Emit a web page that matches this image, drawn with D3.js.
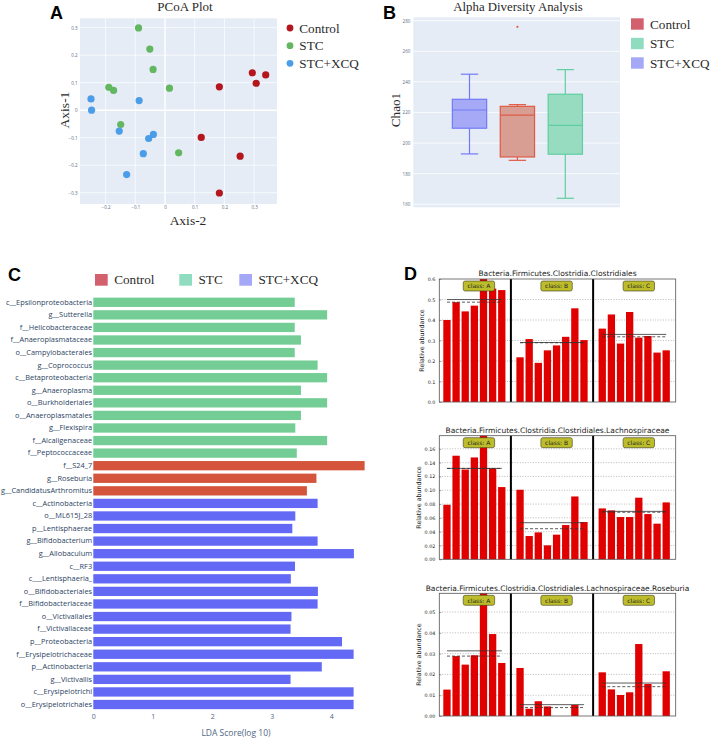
<!DOCTYPE html>
<html><head><meta charset="utf-8">
<script src="https://cdn.jsdelivr.net/npm/d3@7"></script>
<style>body{margin:0;background:#fff}svg{display:block}</style>
</head><body><svg id="c" width="711" height="740"></svg>
<script>
// ================= DATA =================
// Panel A: PCoA
const pcoaGroups = ["Control", "STC", "STC+XCQ"];
const pcoaControl = [[0.294,0.136],[0.339,0.128],[0.307,0.098],[0.183,0.085],[0.122,-0.099],[0.253,-0.167],[0.183,-0.301]];
const pcoaSTC = [[-0.089,0.299],[-0.051,0.222],[-0.040,0.148],[-0.189,0.083],[-0.173,0.072],[0.015,0.080],[-0.149,-0.052],[0.046,-0.155]];
const pcoaXCQ = [[-0.249,0.041],[-0.247,0.000],[-0.087,0.035],[-0.154,-0.076],[-0.055,-0.103],[-0.039,-0.088],[-0.073,-0.158],[-0.129,-0.234]];
const pcoaXTicks = [-0.2,-0.1,0,0.1,0.2,0.3];
const pcoaYTicks = [-0.3,-0.2,-0.1,0,0.1,0.2,0.3];

// Panel B: Alpha diversity (Chao1) box stats
const alphaGroups = ["STC+XCQ", "Control", "STC"];
const alphaLower  = [192.9, 188.7, 163.9];
const alphaQ1     = [209.7, 190.9, 192.7];
const alphaMedian = [221.6, 218.2, 211.6];
const alphaQ3     = [228.6, 224.0, 231.9];
const alphaUpper  = [245.0, 225.1, 248.0];
const alphaOutlierGroup = ["Control"];
const alphaOutlierValue = [276];
const alphaTicks = [160,180,200,220,240,260,280];
const legendGroups = ["Control", "STC", "STC+XCQ"];

// Panel C: LDA scores
const ldaTaxa = ["c__Epsilonproteobacteria","g__Sutterella","f__Helicobacteraceae","f__Anaeroplasmataceae","o__Campylobacterales","g__Coprococcus","c__Betaproteobacteria","g__Anaeroplasma","o__Burkholderiales","o__Anaeroplasmatales","g__Flexispira","f__Alcaligenaceae","f__Peptococcaceae","f__S24_7","g__Roseburia","g__CandidatusArthromitus","c__Actinobacteria","o__ML615J_28","p__Lentisphaerae","g__Bifidobacterium","g__Allobaculum","c__RF3","c___Lentisphaeria_","o__Bifidobacteriales","f__Bifidobacteriaceae","o__Victivallales","f__Victivallaceae","p__Proteobacteria","f__Erysipelotrichaceae","p__Actinobacteria","g__Victivallis","c__Erysipelotrichi","o__Erysipelotrichales"];
const ldaScores = [3.385,3.93,3.385,3.49,3.385,3.77,3.93,3.49,3.93,3.49,3.395,3.93,3.42,4.56,3.75,3.59,3.77,3.395,3.345,3.77,4.38,3.39,3.32,3.775,3.77,3.33,3.315,4.18,4.375,3.84,3.315,4.375,4.375];
const ldaGroup = ["STC","STC","STC","STC","STC","STC","STC","STC","STC","STC","STC","STC","STC","Control","Control","Control","STC+XCQ","STC+XCQ","STC+XCQ","STC+XCQ","STC+XCQ","STC+XCQ","STC+XCQ","STC+XCQ","STC+XCQ","STC+XCQ","STC+XCQ","STC+XCQ","STC+XCQ","STC+XCQ","STC+XCQ","STC+XCQ","STC+XCQ"];
const ldaTicks = [0,1,2,3,4];

// Panel D: relative abundance per sample
const classNames = ["class: A", "class: B", "class: C"];
const d1Title = "Bacteria.Firmicutes.Clostridia.Clostridiales";
const d1A = [0.400,0.487,0.442,0.470,0.600,0.553,0.546];
const d1B = [0.218,0.307,0.191,0.252,0.276,0.318,0.457,0.302];
const d1C = [0.358,0.427,0.285,0.439,0.314,0.322,0.241,0.252];
const d1Ticks = [0,0.1,0.2,0.3,0.4,0.5,0.6];
const d2Title = "Bacteria.Firmicutes.Clostridia.Clostridiales.Lachnospiraceae";
const d2A = [0.079,0.150,0.130,0.1475,0.179,0.1316,0.1046];
const d2B = [0.1007,0.0337,0.039,0.0202,0.0357,0.0496,0.091,0.054];
const d2C = [0.0737,0.0708,0.0612,0.0612,0.0892,0.0655,0.0516,0.0824];
const d2Ticks = [0,0.02,0.04,0.06,0.08,0.10,0.12,0.14,0.16];
const d3Title = "Bacteria.Firmicutes.Clostridia.Clostridiales.Lachnospiraceae.Roseburia";
const d3A = [0.0127,0.0288,0.0247,0.0292,0.059,0.0394,0.0255];
const d3B = [0.0231,0.0035,0.0071,0.0046,0,0,0.0053,0];
const d3C = [0.021,0.0128,0.0101,0.0114,0.0346,0.0154,0,0.0215];
const d3Ticks = [0,0.01,0.02,0.03,0.04,0.05];

// ================= STYLE =================
const SERIF = "'Liberation Serif','Times New Roman',serif";
const SANS = "'Liberation Sans',Arial,sans-serif";
const OPEN = "'Open Sans',sans-serif";
const DJV = "'DejaVu Sans',sans-serif";
const pcoaColor = {"Control":"#b3161c","STC":"#62b760","STC+XCQ":"#4c9de8"};
const legendColor = {"Control":"#d3606d","STC":"#90dcc0","STC+XCQ":"#a4a8f6"};
const boxFill = {"STC+XCQ":"#a6aaf6","Control":"#d89d93","STC":"#97dcc1"};
const boxStroke = {"STC+XCQ":"#7279f6","Control":"#e05a44","STC":"#5fcf9f"};
const ldaColor = {"Control":"#d4553c","STC":"#73cd95","STC+XCQ":"#6369f4"};
const minus = s => s.replace("-", "\u2212");

const svg = d3.select("#c");
svg.append("rect").attr("width",711).attr("height",740).attr("fill","#fff");

function panelLetter(t, x, y) {
  svg.append("text").attr("x",x).attr("y",y).text(t)
    .attr("font-family",SANS).attr("font-weight","bold").attr("font-size",18).attr("fill","#000");
}
panelLetter("A",50,18.5); panelLetter("B",383,18.5); panelLetter("C",8,281); panelLetter("D",404,280);

// ================= PANEL A =================
{
  const x = d3.scaleLinear().domain([-0.286,0.377]).range([80,277]);
  const y = d3.scaleLinear().domain([-0.341,0.334]).range([204,18.3]);
  const g = svg.append("g");
  g.append("rect").attr("x",x.range()[0]).attr("y",y.range()[1])
    .attr("width",x.range()[1]-x.range()[0]).attr("height",y.range()[0]-y.range()[1]).attr("fill","#e5ecf6");
  g.selectAll(".gx").data(pcoaXTicks).join("line")
    .attr("x1",d=>x(d)).attr("x2",d=>x(d)).attr("y1",y.range()[1]).attr("y2",y.range()[0])
    .attr("stroke","#fff").attr("stroke-width",d=>d===0?1.4:0.7);
  g.selectAll(".gy").data(pcoaYTicks).join("line")
    .attr("y1",d=>y(d)).attr("y2",d=>y(d)).attr("x1",x.range()[0]).attr("x2",x.range()[1])
    .attr("stroke","#fff").attr("stroke-width",d=>d===0?1.4:0.7);
  const fmt = d => d===0 ? "0" : minus(d3.format(".1f")(d));
  const ya = g.append("g").attr("transform",`translate(${x.range()[0]},0)`)
    .call(d3.axisLeft(y).tickValues(pcoaYTicks).tickSize(0).tickPadding(2.5).tickFormat(fmt));
  const xa = g.append("g").attr("transform",`translate(0,${y.range()[0]})`)
    .call(d3.axisBottom(x).tickValues(pcoaXTicks).tickSize(0).tickPadding(2).tickFormat(fmt));
  [ya,xa].forEach(a=>{a.select(".domain").remove();
    a.selectAll("text").attr("font-size",4.5).attr("fill","#5a6b85").attr("font-family",OPEN);});
  const sets = [["Control",pcoaControl],["STC",pcoaSTC],["STC+XCQ",pcoaXCQ]];
  sets.forEach(([grp,pts])=>{
    g.selectAll(null).data(pts).join("circle")
      .attr("cx",d=>x(d[0])).attr("cy",d=>y(d[1])).attr("r",3.6).attr("fill",pcoaColor[grp]);
  });
  g.append("text").attr("x",185).attr("y",11).attr("text-anchor","middle").text("PCoA Plot")
    .attr("font-family",SERIF).attr("font-size",13).attr("fill","#2a2a2a");
  g.append("text").attr("x",188).attr("y",224.5).attr("text-anchor","middle").text("Axis-2")
    .attr("font-family",SERIF).attr("font-size",13.5).attr("fill","#2a2a2a");
  g.append("text").attr("transform","translate(68.5,110) rotate(-90)").attr("text-anchor","middle").text("Axis-1")
    .attr("font-family",SERIF).attr("font-size",13.5).attr("fill","#2a2a2a");
  const ly = d3.scalePoint().domain(pcoaGroups).range([28,63.3]);
  const lg = g.selectAll(".lg").data(pcoaGroups).join("g").attr("transform",d=>`translate(290,${ly(d)})`);
  lg.append("circle").attr("r",3.4).attr("fill",d=>pcoaColor[d]);
  lg.append("text").attr("x",9.3).attr("y",4.5).text(d=>d)
    .attr("font-family",SERIF).attr("font-size",13.2).attr("fill","#2a2a2a");
}

// ================= PANEL B =================
{
  const y = d3.scaleLinear().domain([158,282.2]).range([207.3,17.3]);
  const x = d3.scalePoint().domain(alphaGroups).range([469.5,565.3]);
  const L = 413.3, R = 620;
  const g = svg.append("g");
  g.append("rect").attr("x",L).attr("y",y.range()[1]).attr("width",R-L).attr("height",y.range()[0]-y.range()[1]).attr("fill","#e5ecf6");
  g.selectAll(".gy").data(alphaTicks).join("line")
    .attr("x1",L).attr("x2",R).attr("y1",d=>y(d)).attr("y2",d=>y(d)).attr("stroke","#fff").attr("stroke-width",0.8);
  const ya = g.append("g").attr("transform",`translate(${L},0)`)
    .call(d3.axisLeft(y).tickValues(alphaTicks).tickSize(0).tickPadding(3));
  ya.select(".domain").remove();
  ya.selectAll("text").attr("font-size",4.5).attr("fill","#5a6b85").attr("font-family",OPEN);
  const bw = 34.3, cw = 17.3;
  alphaGroups.forEach((grp,i)=>{
    const cx = x(grp), st = boxStroke[grp];
    g.append("line").attr("x1",cx).attr("x2",cx).attr("y1",y(alphaUpper[i])).attr("y2",y(alphaQ3[i])).attr("stroke",st).attr("stroke-width",1.2);
    g.append("line").attr("x1",cx).attr("x2",cx).attr("y1",y(alphaQ1[i])).attr("y2",y(alphaLower[i])).attr("stroke",st).attr("stroke-width",1.2);
    g.append("line").attr("x1",cx-cw/2).attr("x2",cx+cw/2).attr("y1",y(alphaUpper[i])).attr("y2",y(alphaUpper[i])).attr("stroke",st).attr("stroke-width",1.2);
    g.append("line").attr("x1",cx-cw/2).attr("x2",cx+cw/2).attr("y1",y(alphaLower[i])).attr("y2",y(alphaLower[i])).attr("stroke",st).attr("stroke-width",1.2);
    g.append("rect").attr("x",cx-bw/2).attr("width",bw).attr("y",y(alphaQ3[i])).attr("height",y(alphaQ1[i])-y(alphaQ3[i]))
      .attr("fill",boxFill[grp]).attr("stroke",st).attr("stroke-width",1.2);
    g.append("line").attr("x1",cx-bw/2).attr("x2",cx+bw/2).attr("y1",y(alphaMedian[i])).attr("y2",y(alphaMedian[i])).attr("stroke",st).attr("stroke-width",1.2);
  });
  alphaOutlierGroup.forEach((grp,i)=>{
    g.append("circle").attr("cx",x(grp)).attr("cy",y(alphaOutlierValue[i])).attr("r",1.1).attr("fill",boxStroke[grp]);
  });
  g.append("text").attr("x",518).attr("y",10.5).attr("text-anchor","middle").text("Alpha Diversity Analysis")
    .attr("font-family",SERIF).attr("font-size",12.8).attr("fill","#2a2a2a");
  g.append("text").attr("transform","translate(400,110) rotate(-90)").attr("text-anchor","middle").text("Chao1")
    .attr("font-family",SERIF).attr("font-size",13.2).attr("fill","#2a2a2a");
  const ly = d3.scalePoint().domain(legendGroups).range([24,63]);
  const lg = g.selectAll(".lg").data(legendGroups).join("g").attr("transform",d=>`translate(631,${ly(d)})`);
  lg.append("rect").attr("y",-5.7).attr("width",12.7).attr("height",11.4).attr("fill",d=>legendColor[d]);
  lg.append("text").attr("x",19).attr("y",4.6).text(d=>d)
    .attr("font-family",SERIF).attr("font-size",13.2).attr("fill","#2a2a2a");
}

// ================= PANEL C =================
{
  const y = d3.scaleBand().domain(ldaTaxa).range([296,710.8]).paddingInner(0.26).paddingOuter(0.13);
  const x = d3.scaleLinear().domain([0,4]).range([93.3,331.3]);
  const g = svg.append("g");
  g.selectAll(".bar").data(ldaTaxa).join("rect")
    .attr("x",x(0)).attr("y",d=>y(d)).attr("height",y.bandwidth())
    .attr("width",(d,i)=>x(ldaScores[i])-x(0)).attr("fill",(d,i)=>ldaColor[ldaGroup[i]]);
  const ya = g.append("g").attr("transform",`translate(${x(0)},0)`)
    .call(d3.axisLeft(y).tickSize(0).tickPadding(1.2));
  ya.select(".domain").remove();
  ya.selectAll("text").attr("font-size",7.4).attr("fill","#2a3f5f").attr("font-family",OPEN);
  const xa = g.append("g").attr("transform",`translate(0,711)`)
    .call(d3.axisBottom(x).tickValues(ldaTicks).tickSize(0).tickPadding(3).tickFormat(d3.format("d")));
  xa.select(".domain").remove();
  xa.selectAll("text").attr("font-size",7).attr("fill","#506784").attr("font-family",OPEN);
  g.append("text").attr("x",236).attr("y",736).attr("text-anchor","middle").text("LDA Score(log 10)")
    .attr("font-family",OPEN).attr("font-size",8.5).attr("fill","#506784");
  const lx = d3.scaleOrdinal().domain(legendGroups).range([95,179.3,239.3]);
  const lg = g.selectAll(".lg").data(legendGroups).join("g").attr("transform",d=>`translate(${lx(d)},274)`);
  lg.append("rect").attr("width",12.7).attr("height",11.7).attr("fill",d=>legendColor[d]);
  lg.append("text").attr("x",19.2).attr("y",10.2).text(d=>d)
    .attr("font-family",SERIF).attr("font-size",13.2).attr("fill","#2a2a2a");
}

// ================= PANEL D =================
function drawD(title, A, B, C, ticks, fmtStr, top, bottom) {
  const L = 439.3, R = 675.7;
  const slots = [];
  A.forEach((v,i)=>slots.push({g:0,s:i,v}));
  B.forEach((v,i)=>slots.push({g:1,s:A.length+1+i,v}));
  C.forEach((v,i)=>slots.push({g:2,s:A.length+B.length+2+i,v}));
  const x = d3.scaleLinear().domain([-0.438,25.44]).range([L,R]);
  const maxV = d3.max(slots,d=>d.v);
  const y = d3.scaleLinear().domain([0,maxV]).range([bottom,top]);
  const bwid = 0.8;
  const g = svg.append("g");
  g.selectAll(".gy").data(ticks.filter(t=>t>0 && t<maxV)).join("line")
    .attr("x1",L).attr("x2",R).attr("y1",d=>y(d)).attr("y2",d=>y(d))
    .attr("stroke","#8a8a8a").attr("stroke-width",0.6).attr("stroke-dasharray","1,1.6");
  g.selectAll(".bar").data(slots).join("rect")
    .attr("x",d=>x(d.s)).attr("width",x(bwid)-x(0)).attr("y",d=>y(d.v)).attr("height",d=>y(0)-y(d.v))
    .attr("fill","#e00000");
  [A,B,C].forEach((arr,gi)=>{
    const ss = slots.filter(d=>d.g===gi).map(d=>d.s);
    const x1 = x(d3.min(ss)+bwid/2), x2 = x(d3.max(ss)+bwid/2);
    g.append("line").attr("x1",x1).attr("x2",x2).attr("y1",y(d3.mean(arr))).attr("y2",y(d3.mean(arr)))
      .attr("stroke","#333").attr("stroke-width",0.8);
    g.append("line").attr("x1",x1).attr("x2",x2).attr("y1",y(d3.median(arr))).attr("y2",y(d3.median(arr)))
      .attr("stroke","#333").attr("stroke-width",0.8).attr("stroke-dasharray","3,2");
  });
  const seps = [A.length + bwid/2, A.length+B.length+1+bwid/2];
  g.selectAll(".sep").data(seps).join("line")
    .attr("x1",d=>x(d)).attr("x2",d=>x(d)).attr("y1",top).attr("y2",bottom)
    .attr("stroke","#000").attr("stroke-width",2);
  g.append("rect").attr("x",L).attr("y",top).attr("width",R-L).attr("height",bottom-top)
    .attr("fill","none").attr("stroke","#555").attr("stroke-width",0.8);
  const ya = g.append("g").attr("transform",`translate(${L},0)`)
    .call(d3.axisLeft(y).tickValues(ticks).tickSizeInner(-2).tickSizeOuter(0).tickPadding(4).tickFormat(d3.format(fmtStr)));
  ya.select(".domain").remove();
  ya.selectAll("line").attr("stroke","#555").attr("stroke-width",0.5);
  ya.selectAll("text").attr("font-size",4.8).attr("fill","#222").attr("font-family",DJV);
  const groupsSlots = [0,1,2].map(gi=>slots.filter(d=>d.g===gi).map(d=>d.s));
  groupsSlots.forEach((ss,gi)=>{
    const cx = x(d3.mean(ss)+0.9);
    const lab = g.append("g").attr("transform",`translate(${cx},${top+2})`);
    lab.append("rect").attr("x",-15.7).attr("width",31.4).attr("height",10).attr("rx",2)
      .attr("fill","#bdbd2b").attr("stroke","#3a3a1a").attr("stroke-width",0.6);
    lab.append("text").attr("y",7.4).attr("text-anchor","middle").text(classNames[gi])
      .attr("font-family",DJV).attr("font-size",6).attr("fill","#222");
  });
  g.append("text").attr("x",(L+R)/2).attr("y",top-2.8).attr("text-anchor","middle").text(title)
    .attr("font-family",DJV).attr("font-size",7.5).attr("fill","#222");
  const labX = fmtStr===".1f" ? 424.3 : 421;
  g.append("text").attr("transform",`translate(${labX},${(top+bottom)/2}) rotate(-90)`).attr("text-anchor","middle")
    .text("Relative abundance").attr("font-family",DJV).attr("font-size",6.3).attr("fill","#222");
}
drawD(d1Title, d1A, d1B, d1C, d1Ticks, ".1f", 279, 402);
drawD(d2Title, d2A, d2B, d2C, d2Ticks, ".2f", 435.7, 559.3);
drawD(d3Title, d3A, d3B, d3C, d3Ticks, ".2f", 593.3, 716);
</script>
</body></html>
